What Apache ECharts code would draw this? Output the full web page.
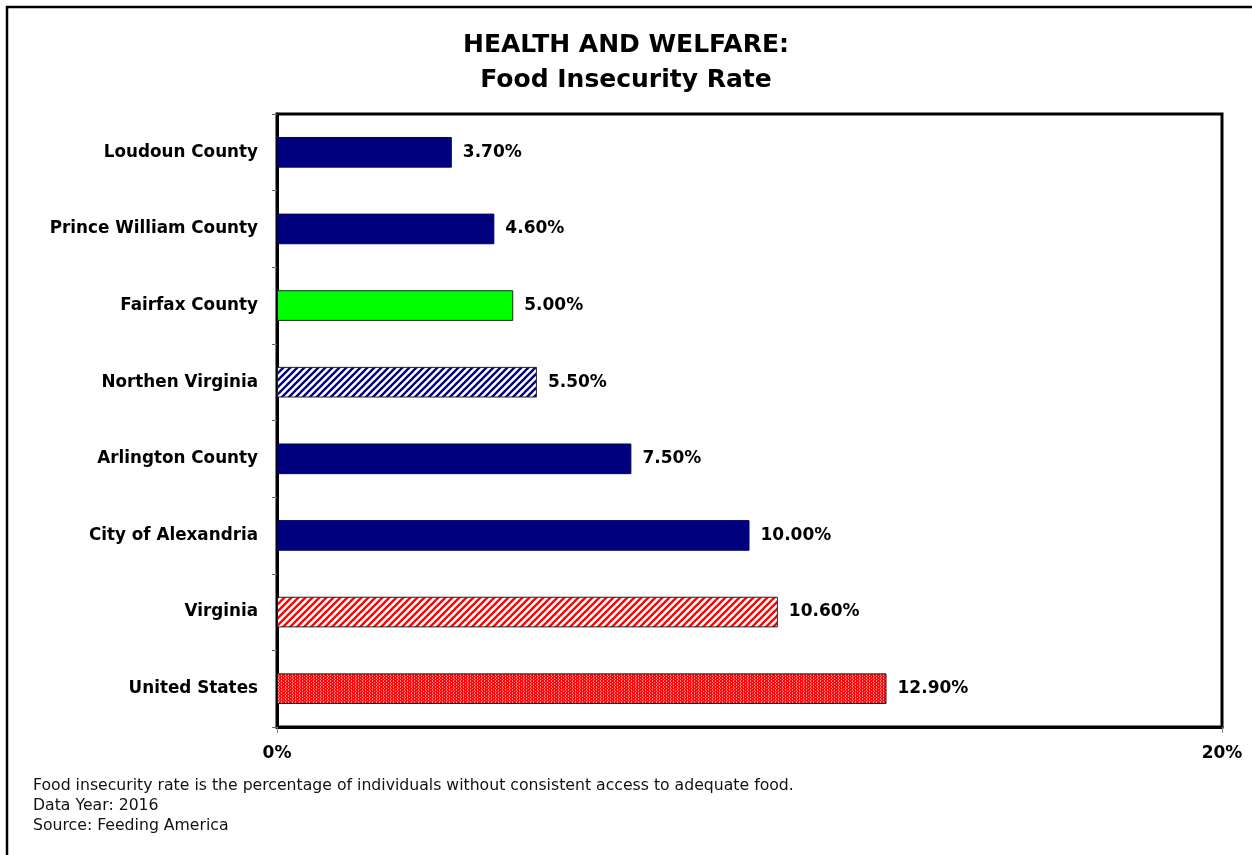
<!DOCTYPE html>
<html>
<head>
<meta charset="utf-8">
<script src="https://cdn.jsdelivr.net/npm/echarts@6/dist/echarts.min.js"></script>
<style>
  html, body { margin: 0; padding: 0; background: #fff; }
  #chart { width: 1252px; height: 855px; }
</style>
</head>
<body>
<div id="chart"></div>
<script>
// Food insecurity rate by area (percent), top to bottom
const categories = [
  'Loudoun County',
  'Prince William County',
  'Fairfax County',
  'Northen Virginia',
  'Arlington County',
  'City of Alexandria',
  'Virginia',
  'United States'
];
const rates = [3.7, 4.6, 5.0, 5.5, 7.5, 10.0, 10.6, 12.9];
const fills = ['navy', 'navy', 'green', 'navyStripe', 'navy', 'navy', 'redStripe', 'redDense'];
const xTickLabels = ['0%', '20%'];
const footnotes = [
  'Food insecurity rate is the percentage of individuals without consistent access to adequate food.',
  'Data Year: 2016',
  'Source: Feeding America'
];

const FONT = '"DejaVu Sans", "Liberation Sans", sans-serif';

// diagonal "/" stripes on white
function stripeTile(color) {
  const s = 7;
  const c = document.createElement('canvas');
  c.width = s; c.height = s;
  const g = c.getContext('2d');
  g.fillStyle = '#fff';
  g.fillRect(0, 0, s, s);
  g.strokeStyle = color;
  g.lineWidth = 2.3;
  g.beginPath();
  g.moveTo(-s, s); g.lineTo(s, -s);
  g.moveTo(0, s); g.lineTo(s, 0);
  g.moveTo(0, 2 * s); g.lineTo(2 * s, 0);
  g.stroke();
  return c;
}

// dense red fill with light vertical streaks
function denseTile() {
  const c = document.createElement('canvas');
  c.width = 7; c.height = 3;
  const g = c.getContext('2d');
  g.fillStyle = '#ff0a0a';
  g.fillRect(0, 0, 7, 3);
  g.fillStyle = '#ff8080';
  [[1,0],[1,2],[3,1],[5,0],[5,2],[6,1]].forEach(p => g.fillRect(p[0], p[1], 1, 1));
  return c;
}

const fillStyles = {
  navy: '#00007f',
  green: '#00ff00',
  navyStripe: { image: stripeTile('#00007f'), repeat: 'repeat' },
  redStripe: { image: stripeTile('#ff0000'), repeat: 'repeat' },
  redDense: { image: denseTile(), repeat: 'repeat' }
};

const chart = echarts.init(document.getElementById('chart'), null, { renderer: 'canvas' });

chart.setOption({
  backgroundColor: '#fff',
  animation: false,
  title: {
    text: 'HEALTH AND WELFARE:\nFood Insecurity Rate',
    left: 'center',
    top: 23,
    textStyle: {
      fontFamily: FONT,
      fontSize: 25,
      fontWeight: 'bold',
      color: '#000',
      lineHeight: 35
    }
  },
  grid: {
    left: 277, right: 30, top: 114, bottom: 128,
    show: true,
    borderColor: '#000',
    borderWidth: 3,
    backgroundColor: 'transparent'
  },
  xAxis: {
    type: 'value',
    min: 0, max: 20, interval: 20,
    axisLine: { show: true, lineStyle: { color: '#000', width: 3 } },
    axisTick: { show: true, length: 6, lineStyle: { color: '#888', width: 1 } },
    splitLine: { show: false },
    axisLabel: {
      margin: 18,
      fontFamily: FONT, fontSize: 17, fontWeight: 'bold', color: '#000',
      formatter: v => xTickLabels[Math.round(v / 20)]
    }
  },
  yAxis: {
    type: 'category',
    inverse: true,
    data: categories,
    axisLine: { show: true, lineStyle: { color: '#000', width: 3 } },
    axisTick: { show: true, length: 5, lineStyle: { color: '#666', width: 1 } },
    axisLabel: {
      margin: 19,
      fontFamily: FONT, fontSize: 16.8, fontWeight: 'bold', color: '#000'
    }
  },
  series: [{
    type: 'bar',
    barCategoryGap: '60%',
    data: rates.map((v, i) => ({
      value: v,
      itemStyle: {
        color: fillStyles[fills[i]],
        borderColor: fills[i] === 'navy' ? '#00006a' : '#222',
        borderWidth: 1
      }
    })),
    label: {
      show: true,
      position: 'right',
      distance: 11,
      fontFamily: FONT, fontSize: 17, fontWeight: 'bold', color: '#000',
      formatter: p => p.value.toFixed(2) + '%'
    }
  }],
  graphic: [
    {
      type: 'rect',
      shape: { x: 7, y: 7, width: 1400, height: 1000 },
      style: { fill: 'none', stroke: '#000', lineWidth: 2.5 },
      silent: true
    },
    ...footnotes.map((t, i) => ({
      type: 'text',
      left: 33,
      top: 778 + i * 20,
      style: { text: t, fontFamily: FONT, fontSize: 15.7, fill: '#111' }
    }))
  ]
});
</script>
</body>
</html>
